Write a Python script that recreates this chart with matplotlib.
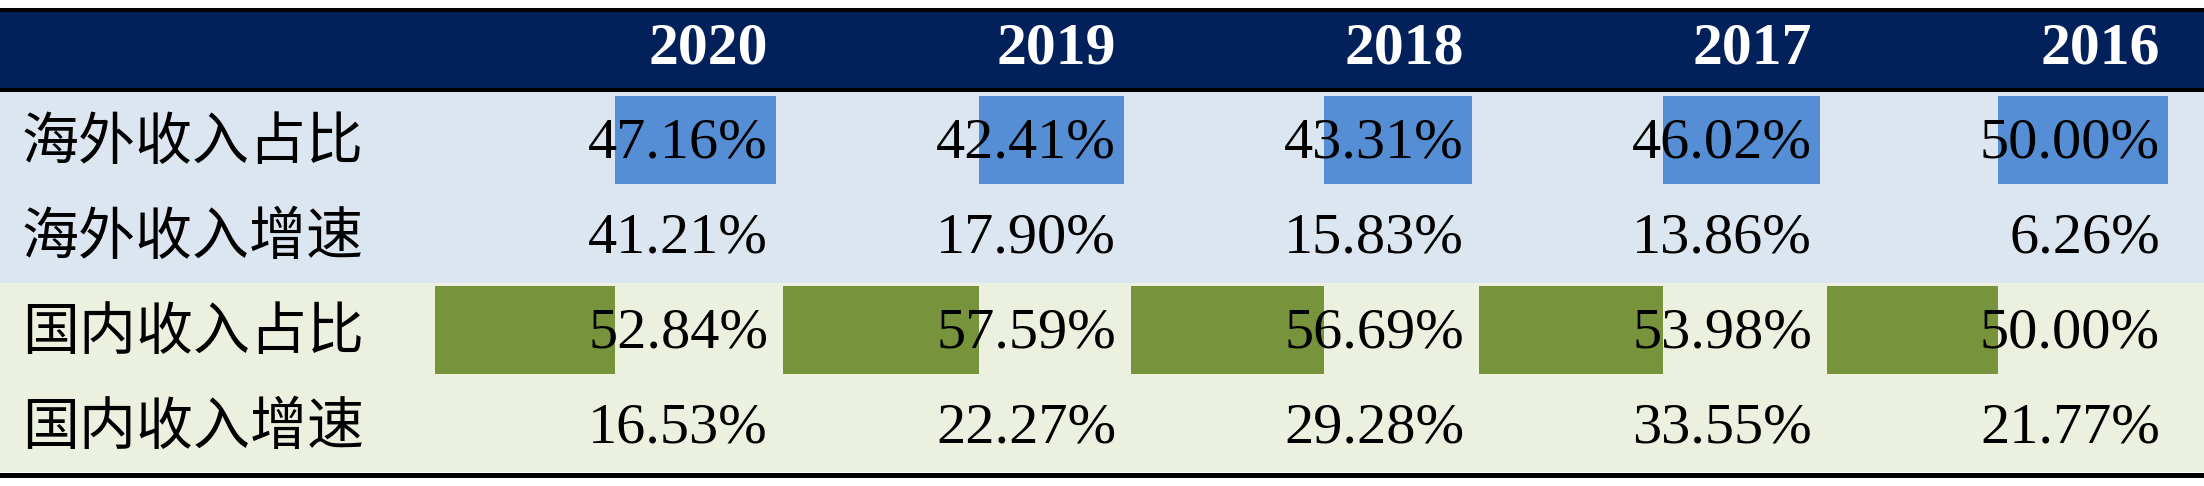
import matplotlib
matplotlib.use("Agg")
import matplotlib.pyplot as plt

# ── Data ───────────────────────────────────────────────────────────────────
years = ["2020", "2019", "2018", "2017", "2016"]
row_labels = ["海外收入占比", "海外收入增速", "国内收入占比", "国内收入增速"]
overseas_share = [47.16, 42.41, 43.31, 46.02, 50.00]
overseas_growth = [41.21, 17.90, 15.83, 13.86, 6.26]
domestic_share = [52.84, 57.59, 56.69, 53.98, 50.00]
domestic_growth = [16.53, 22.27, 29.28, 33.55, 21.77]
rows = [overseas_share, overseas_growth, domestic_share, domestic_growth]

# ── Style ──────────────────────────────────────────────────────────────────
NAVY = "#02215B"
BLUE_BG = "#DCE6F1"
GREEN_BG = "#EBF1DE"
BLUE_BAR = "#558ED5"
GREEN_BAR = "#77933C"

W, H = 2204, 486
COL_PX = 348        # pixel width of one year column
FIRST_COL_PX = 435  # left edge of the 2020 column
ROW_PX = 95         # pixel height of one data row
ROW0_PX = 140       # centre of first data row


def vy(px):
    return (px - ROW0_PX) / ROW_PX


def ux(px):
    return (px - FIRST_COL_PX) / COL_PX


fig = plt.figure(figsize=(W / 100, H / 100), dpi=100)
ax = fig.add_axes([0, 0, 1, 1])
ax.set_xlim(ux(0), ux(W))
ax.set_ylim(vy(H), vy(0))
ax.axis("off")

# backgrounds
ax.axhspan(vy(12), vy(88), color=NAVY, lw=0)
ax.axhspan(vy(92), vy(283), color=BLUE_BG, lw=0)
ax.axhspan(vy(283), vy(472), color=GREEN_BG, lw=0)

# rules
ax.axhline(vy(10), color="black", lw=2.9)
ax.axhline(vy(90), color="black", lw=2.9)
ax.axhline(vy(474.5), color="black", lw=3.6)

# data bars (share rows): overseas right-to-left, domestic left-to-right
bar_w = 341 / COL_PX
bar_h = 88 / ROW_PX
cols = range(len(years))
blue_len = [v / 100 * bar_w for v in overseas_share]
green_len = [v / 100 * bar_w for v in domestic_share]
ax.barh([0] * len(years), blue_len, left=[i + bar_w - l for i, l in zip(cols, blue_len)],
        height=bar_h, color=BLUE_BAR, lw=0)
ax.barh([2] * len(years), green_len, left=list(cols),
        height=bar_h, color=GREEN_BAR, lw=0)

# header
text_right = 333 / COL_PX
for i, y in enumerate(years):
    ax.text(i + text_right, vy(49), y, ha="right", va="center", color="white",
            fontsize=43, fontweight="bold", family="Liberation Serif")

# row labels and values
for r, (label, vals) in enumerate(zip(row_labels, rows)):
    ax.text(ux(22), r + 0.03, label, ha="left", va="center", color="black",
            fontsize=41, family=["Noto Sans CJK SC", "DejaVu Sans"])
    for i, v in enumerate(vals):
        ax.text(i + text_right, r + 0.04, f"{v:.2f}%", ha="right", va="center",
                color="black", fontsize=42, family="Liberation Serif")

fig.savefig("out.png", dpi=100)
